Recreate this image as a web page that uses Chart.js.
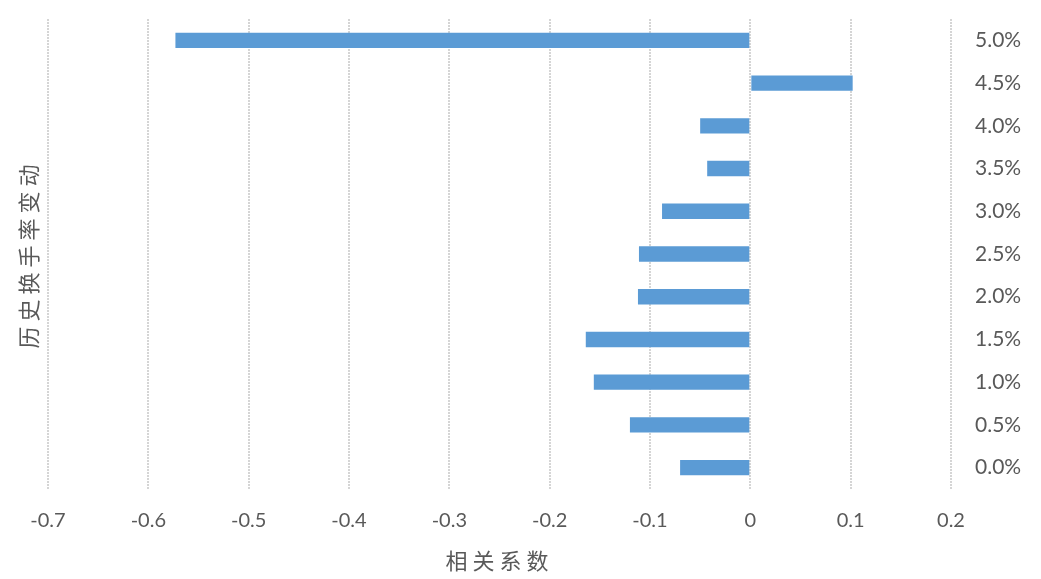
<!DOCTYPE html>
<html>
<head>
<meta charset="utf-8">
<script src="https://cdn.jsdelivr.net/npm/chart.js@4/dist/chart.umd.min.js"></script>
<style>
  html, body { margin: 0; padding: 0; background: #ffffff; }
  #wrap { width: 1041px; height: 579px; position: relative; }
</style>
</head>
<body>
<div id="wrap"><canvas id="c"></canvas></div>
<script>
// ---- data ----
const categories = ['0.0%', '0.5%', '1.0%', '1.5%', '2.0%', '2.5%', '3.0%', '3.5%', '4.0%', '4.5%', '5.0%'];
const correlation = [-0.070, -0.120, -0.156, -0.164, -0.112, -0.111, -0.088, -0.043, -0.050, 0.102, -0.573];
const xTickValues = [-0.7, -0.6, -0.5, -0.4, -0.3, -0.2, -0.1, 0, 0.1, 0.2];
const xTitle = '相关系数';
const yTitle = '历史换手率变动';

const textColor = '#595959';
const tickFont = { family: 'Lato, "Open Sans", sans-serif', size: 20 };
const yTickFont = { family: 'Lato, "Open Sans", sans-serif', size: 21 };
const titleFont = { family: '"Noto Sans CJK SC", sans-serif', size: 22 };

const titleSpacing = {
  id: 'titleSpacing',
  afterUpdate(chart) {
    for (const s of Object.values(chart.scales)) {
      if (s._wrappedTitle) continue;
      const orig = s.drawTitle;
      s.drawTitle = function () {
        const c = this.ctx;
        c.save();
        c.letterSpacing = '5px';
        orig.apply(this, arguments);
        c.restore();
      };
      s._wrappedTitle = true;
    }
  }
};

new Chart(document.getElementById('c'), {
  type: 'bar',
  data: {
    labels: categories,
    datasets: [{
      data: correlation,
      backgroundColor: '#5B9BD5',
      borderWidth: 0,
      categoryPercentage: 1,
      barPercentage: 0.36
    }]
  },
  plugins: [titleSpacing],
  options: {
    indexAxis: 'y',
    responsive: true,
    maintainAspectRatio: false,
    animation: false,
    layout: { padding: { top: 19, bottom: 0, left: 0, right: 0 } },
    plugins: { legend: { display: false }, tooltip: { enabled: false } },
    scales: {
      x: {
        type: 'linear',
        position: 'bottom',
        min: -0.7,
        max: 0.2,
        afterBuildTicks: s => { s.ticks = xTickValues.map(v => ({ value: v })); },
        afterFit: s => { s.height = 90; },
        grid: {
          display: true,
          drawTicks: false,
          color: '#d5d5d5',
          lineWidth: 2
        },
        border: { display: false, dash: [2, 1] },
        ticks: {
          color: textColor,
          font: tickFont,
          padding: 20,
          maxRotation: 0,
          autoSkip: false,
          callback: v => String(Number(Number(v).toFixed(1)))
        },
        title: {
          display: true,
          text: xTitle,
          color: textColor,
          font: titleFont,
          padding: { top: 0, bottom: 5 }
        }
      },
      y: {
        type: 'category',
        position: 'right',
        reverse: true,
        offset: true,
        afterFit: s => { s.width = 90; s.paddingTop = 0; s.paddingBottom = 0; },
        grid: { display: false, drawTicks: false },
        border: { display: false },
        ticks: { color: textColor, font: yTickFont, padding: 24, autoSkip: false }
      },
      yL: {
        type: 'category',
        position: 'left',
        display: true,
        afterFit: s => { s.width = 48; s.paddingTop = 0; s.paddingBottom = 0; },
        grid: { display: false, drawTicks: false },
        border: { display: false },
        ticks: { display: false },
        title: {
          display: true,
          text: yTitle,
          color: textColor,
          font: titleFont,
          padding: { top: 15, bottom: 0 }
        }
      }
    }
  }
});
</script>
</body>
</html>
